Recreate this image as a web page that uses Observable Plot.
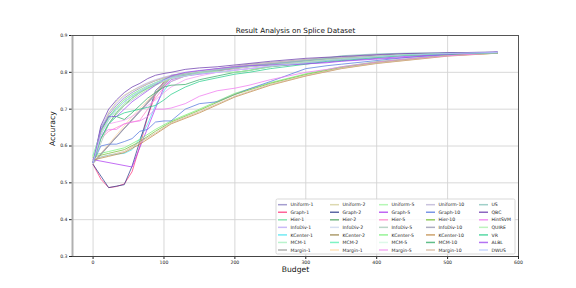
<!DOCTYPE html>
<html><head><meta charset="utf-8">
<script src="https://cdn.jsdelivr.net/npm/d3@7"></script>
<script src="https://cdn.jsdelivr.net/npm/@observablehq/plot@0.6"></script>
<style>body{margin:0;background:#fff} svg{font-family:"DejaVu Sans",sans-serif}</style>
</head><body><div id="chart"></div>
<script>
const _ = null;
const budget = [0,11,22,33,44,55,66,77,88,100,110,130,150,175,200,220,250,300,330,350,400,440,500,570];
const xTicks = [0,100,200,300,400,500,600];
const yTicks = [0.3,0.4,0.5,0.6,0.7,0.8,0.9];

const uniform1 = [.555,.64,.685,.71,.73,.745,.757,.768,.777,.785,.79,.797,.803,.808,.814,.818,.824,.832,.836,.839,.845,.848,.852,.854];
const graph1 = [.55,.51,.487,.49,.497,.53,.60,.68,.74,.775,.785,.795,.80,.806,.812,.817,.823,.831,.835,.838,.844,.848,.851,.854];
const hier1 = [.56,.63,.675,.705,.725,.74,.752,.763,.772,.782,.788,.795,.802,.808,.813,.817,.823,.831,.836,.839,.844,.848,.851,.853];
const infoDiv1 = [.555,.65,.69,.715,.735,.75,.762,.772,.78,.787,.792,.799,.804,.81,.815,.819,.825,.833,.837,.84,.845,.849,.852,.854];
const kCenter1 = [.56,.57,.575,.578,.58,.59,.62,.66,.71,.75,.775,.79,.798,.805,.811,.816,.822,.83,.835,.838,.844,.848,.851,.853];
const mcm1 = [.57,.62,.66,.69,.715,.73,.745,.757,.767,.777,.784,.792,.80,.805,.81,.815,.82,.829,.834,.836,.843,.847,.851,.853];
const margin1 = [.552,_,_,_,_,_,_,_,_,_,.792,_,_,_,_,.822,_,_,.84,_,_,.849,_,.854];
const uniform2 = [.555,.635,.69,.72,.738,.75,.76,.77,.778,.785,.79,.797,.802,.808,.813,.817,.823,.831,.836,.838,.844,.848,.851,.853];
const graph2 = [.55,_,.487,_,.495,.545,_,_,.75,_,.79,_,.80,_,.812,_,.823,.832,_,.839,.845,_,.852,.854];
const hier2 = [.555,.62,.66,.69,.71,.73,.745,.757,.768,.778,.785,.793,.80,.806,.812,.816,.822,.83,.835,.837,.843,.848,.851,.853];
const infoDiv2 = [.555,_,_,_,_,_,_,_,_,_,.785,_,_,_,_,.818,_,_,.837,_,_,.848,_,.853];
const kCenter2 = [.555,_,_,_,_,_,_,_,_,_,.788,_,_,_,_,.816,_,_,.834,_,_,.846,_,.853];
const mcm2 = [.575,.64,.68,.70,.72,.735,.748,.76,.77,.78,.786,.794,.80,.806,.811,.815,.821,.83,.835,.837,.843,.848,.851,.854];
const margin1b = [.555,_,_,_,_,.68,_,_,_,_,.79,_,_,_,_,.82,_,_,.838,_,_,.848,_,.853];
const uniform5 = [.555,.64,.68,.705,.725,.74,.752,.762,.772,.78,.786,.795,.80,.803,.80,.805,.818,.828,.833,.836,.842,.847,.851,.853];
const graph5 = [.563,_,_,_,_,.543,_,_,_,.76,.78,.79,.795,.80,.806,.81,.816,.823,.828,.831,.838,.843,.849,.854];
const hier5 = [.555,.62,.64,.65,.66,.665,.67,.70,.73,.76,.775,.79,.798,.805,.81,.815,.821,.83,.835,.838,.844,.848,.851,.853];
const infoDiv5 = [.555,_,.66,_,.71,_,.74,_,.765,_,.785,_,.80,_,.812,_,.822,.831,_,.838,.844,_,.851,.854];
const kCenter5 = [.575,_,.585,_,.595,_,.618,_,.645,_,.668,_,.70,_,.743,_,.772,.796,_,.815,.829,_,.847,.853];
const mcm5 = [.56,.63,.67,.70,.72,.735,.75,.76,.77,.78,.786,.795,.801,.807,.812,.816,.822,.83,.835,.838,.844,.848,.851,.853];
const margin5 = [.555,.64,.66,.665,.67,.68,.695,.71,.725,.745,.76,.78,.79,.80,.806,.81,.817,.826,.832,.835,.842,.847,.85,.853];
const uniform10 = [.555,_,_,_,_,_,_,_,_,_,.79,_,_,_,_,.82,_,_,.838,_,_,.848,_,.853];
const graph10 = [.555,.60,.605,.605,.612,.62,.64,.645,.665,.668,.668,.70,.715,.72,.74,.755,.775,.81,.818,.822,.832,.84,.848,.853];
const hier10 = [.57,_,.58,_,.59,_,.612,_,.64,_,.665,_,.697,_,.74,_,.77,.794,_,.813,.827,_,.846,.852];
const infoDiv10 = [.555,_,_,_,_,_,_,_,_,_,.785,_,_,_,_,.818,_,_,.836,_,_,.847,_,.853];
const kCenter10 = [.562,_,.572,_,.582,_,.605,_,.632,_,.66,_,.69,_,.733,_,.765,.79,_,.81,.824,_,.844,.852];
const mcm10 = [.555,.64,.68,.68,.672,.69,.71,.73,.745,.76,.765,.767,.78,.79,.80,.805,.815,.826,.832,.835,.842,.847,.851,.853];
const margin10 = [.565,_,.575,_,.585,_,.61,_,.635,_,.662,_,.693,_,.735,_,.767,.791,_,.811,.825,_,.845,.852];
const us = [.555,.65,.68,.70,.72,.735,.748,.76,.77,.78,.787,.795,.80,.806,.812,.817,.822,.832,.838,.845,.85,.852,.853,.855];
const qbc = [.555,.655,.70,.725,.745,.76,.77,.783,.792,.797,.80,.808,.812,.815,.82,.824,.83,.838,.841,.843,.848,.851,.853,.855];
const hintSVM = [.555,.63,.645,.645,.66,.665,.668,.68,.70,.70,.703,.715,.735,.75,.757,.765,.78,.80,.808,.815,.828,.836,.845,.853];
const quire = [.57,.64,.67,.695,.715,.73,.745,.755,.765,.775,.782,.79,.798,.803,.80,.805,.815,.828,.834,.837,.843,.848,.851,.853];
const vr = [.555,.62,.66,.68,.69,.695,.70,.705,.71,.725,.74,.76,.775,.785,.795,.80,.81,.822,.83,.832,.84,.846,.85,.853];
const albl = [.555,.645,.68,.68,.70,.72,.735,.75,.765,.78,.79,.80,.805,.81,.815,.818,.82,.823,.826,.83,.836,.84,.85,.855];
const dwus = [.555,.63,.67,.70,.72,.735,.748,.76,.77,.778,.785,.79,.796,.80,.806,.81,.817,.826,.832,.835,.842,.847,.851,.854];

const seriesNames = ["Uniform-1","Graph-1","Hier-1","InfoDiv-1","KCenter-1","MCM-1","Margin-1",
  "Uniform-2","Graph-2","Hier-2","InfoDiv-2","KCenter-2","MCM-2","Margin-1",
  "Uniform-5","Graph-5","Hier-5","InfoDiv-5","KCenter-5","MCM-5","Margin-5",
  "Uniform-10","Graph-10","Hier-10","InfoDiv-10","KCenter-10","MCM-10","Margin-10",
  "US","QBC","HintSVM","QUIRE","VR","ALBL","DWUS"];
const seriesValues = [uniform1,graph1,hier1,infoDiv1,kCenter1,mcm1,margin1,
  uniform2,graph2,hier2,infoDiv2,kCenter2,mcm2,margin1b,
  uniform5,graph5,hier5,infoDiv5,kCenter5,mcm5,margin5,
  uniform10,graph10,hier10,infoDiv10,kCenter10,mcm10,margin10,
  us,qbc,hintSVM,quire,vr,albl,dwus];
const seriesColors = ["#8f86c4","#ff3d7f","#6ee0a0","#bba9f5","#4fe3f0","#a8f0c0","#9c9e9c",
  "#d4d09c","#34448f","#55a868","#cad6ee","#9a8448","#5ef0b4","#ffdcaa",
  "#a4f5a4","#b040f0","#ff88cc","#a8cab8","#7cf07c","#d4f8e4","#f09cf0",
  "#bcb4d6","#5a7ce0","#7cc03c","#9898b2","#c08c48","#3aae6c","#d6b69c",
  "#88c4bc","#7040b0","#f07cf0","#acf0ac","#2ed08e","#a050f0","#bccdff"];
const keys = seriesNames.map((n,i)=>i+":"+n);

const rows = [];
seriesValues.forEach((vals,i)=>vals.forEach((v,j)=>{ if (v !== null) rows.push({key:keys[i], budget:budget[j], acc:v}); }));

const chart = Plot.plot({
  width:576, height:288, marginLeft:72, marginRight:58, marginTop:35, marginBottom:32,
  style:{fontFamily:"DejaVu Sans, sans-serif", fontSize:"4.6px", background:"#fff", color:"#222"},
  x:{domain:[-29,600], ticks:xTicks, tickSize:3, tickPadding:1.5, label:null},
  y:{domain:[0.3,0.9], ticks:yTicks, tickSize:3, tickPadding:2, label:null, tickFormat:d3.format(".1f")},
  color:{domain:keys, range:seriesColors},
  marks:[
    Plot.ruleX(xTicks.filter(d=>d<600),{stroke:"#d4d4d4", strokeWidth:0.9}),
    Plot.ruleY(yTicks.filter(d=>d>0.3 && d<0.9),{stroke:"#d4d4d4", strokeWidth:0.9}),
    Plot.line(rows,{x:"budget", y:"acc", z:"key", stroke:"key", strokeWidth:0.85, strokeOpacity:0.9}),
    Plot.ruleX([-29],{stroke:"#b0b0b0", strokeWidth:2}),
    Plot.ruleX([600],{stroke:"#555", strokeWidth:1}),
    Plot.ruleY([0.9],{stroke:"#555", strokeWidth:1}),
    Plot.ruleY([0.3],{stroke:"#444", strokeWidth:1.2}),
    Plot.text(["Result Analysis on Splice Dataset"],{text:d=>d, frameAnchor:"top", dy:-8, fontSize:7.2, fill:"#111"}),
    Plot.text(["Budget"],{text:d=>d, frameAnchor:"bottom", dy:15.5, fontSize:7.6, fill:"#111"}),
    Plot.text(["Accuracy"],{text:d=>d, frameAnchor:"left", dx:-20, rotate:-90, fontSize:7.6, fill:"#111"})
  ]
});
document.getElementById("chart").appendChild(chart);

// legend
const svg = d3.select(chart);
const lg = svg.append("g").attr("class","legend").attr("text-anchor","start");
lg.append("rect").attr("x",276).attr("y",199).attr("width",239).attr("height",55).attr("rx",1.5)
  .attr("fill","#fff").attr("fill-opacity",0.85).attr("stroke","#cfcfcf").attr("stroke-width",0.8);
const colX = [278,330,379,426,479];
const rowY0 = 204.7, rowDy = 7.55;
seriesNames.forEach((name,i)=>{
  const c = Math.floor(i/7), r = i%7;
  const x = colX[c], y = rowY0 + r*rowDy;
  lg.append("line").attr("x1",x).attr("x2",x+9).attr("y1",y).attr("y2",y)
    .attr("stroke",seriesColors[i]).attr("stroke-width",1.5).attr("stroke-opacity",0.8);
  lg.append("text").attr("x",x+12.5).attr("y",y).attr("dy","0.35em").attr("text-anchor","start")
    .attr("font-size","4.6px").attr("fill","#222").text(name);
});
</script></body></html>
